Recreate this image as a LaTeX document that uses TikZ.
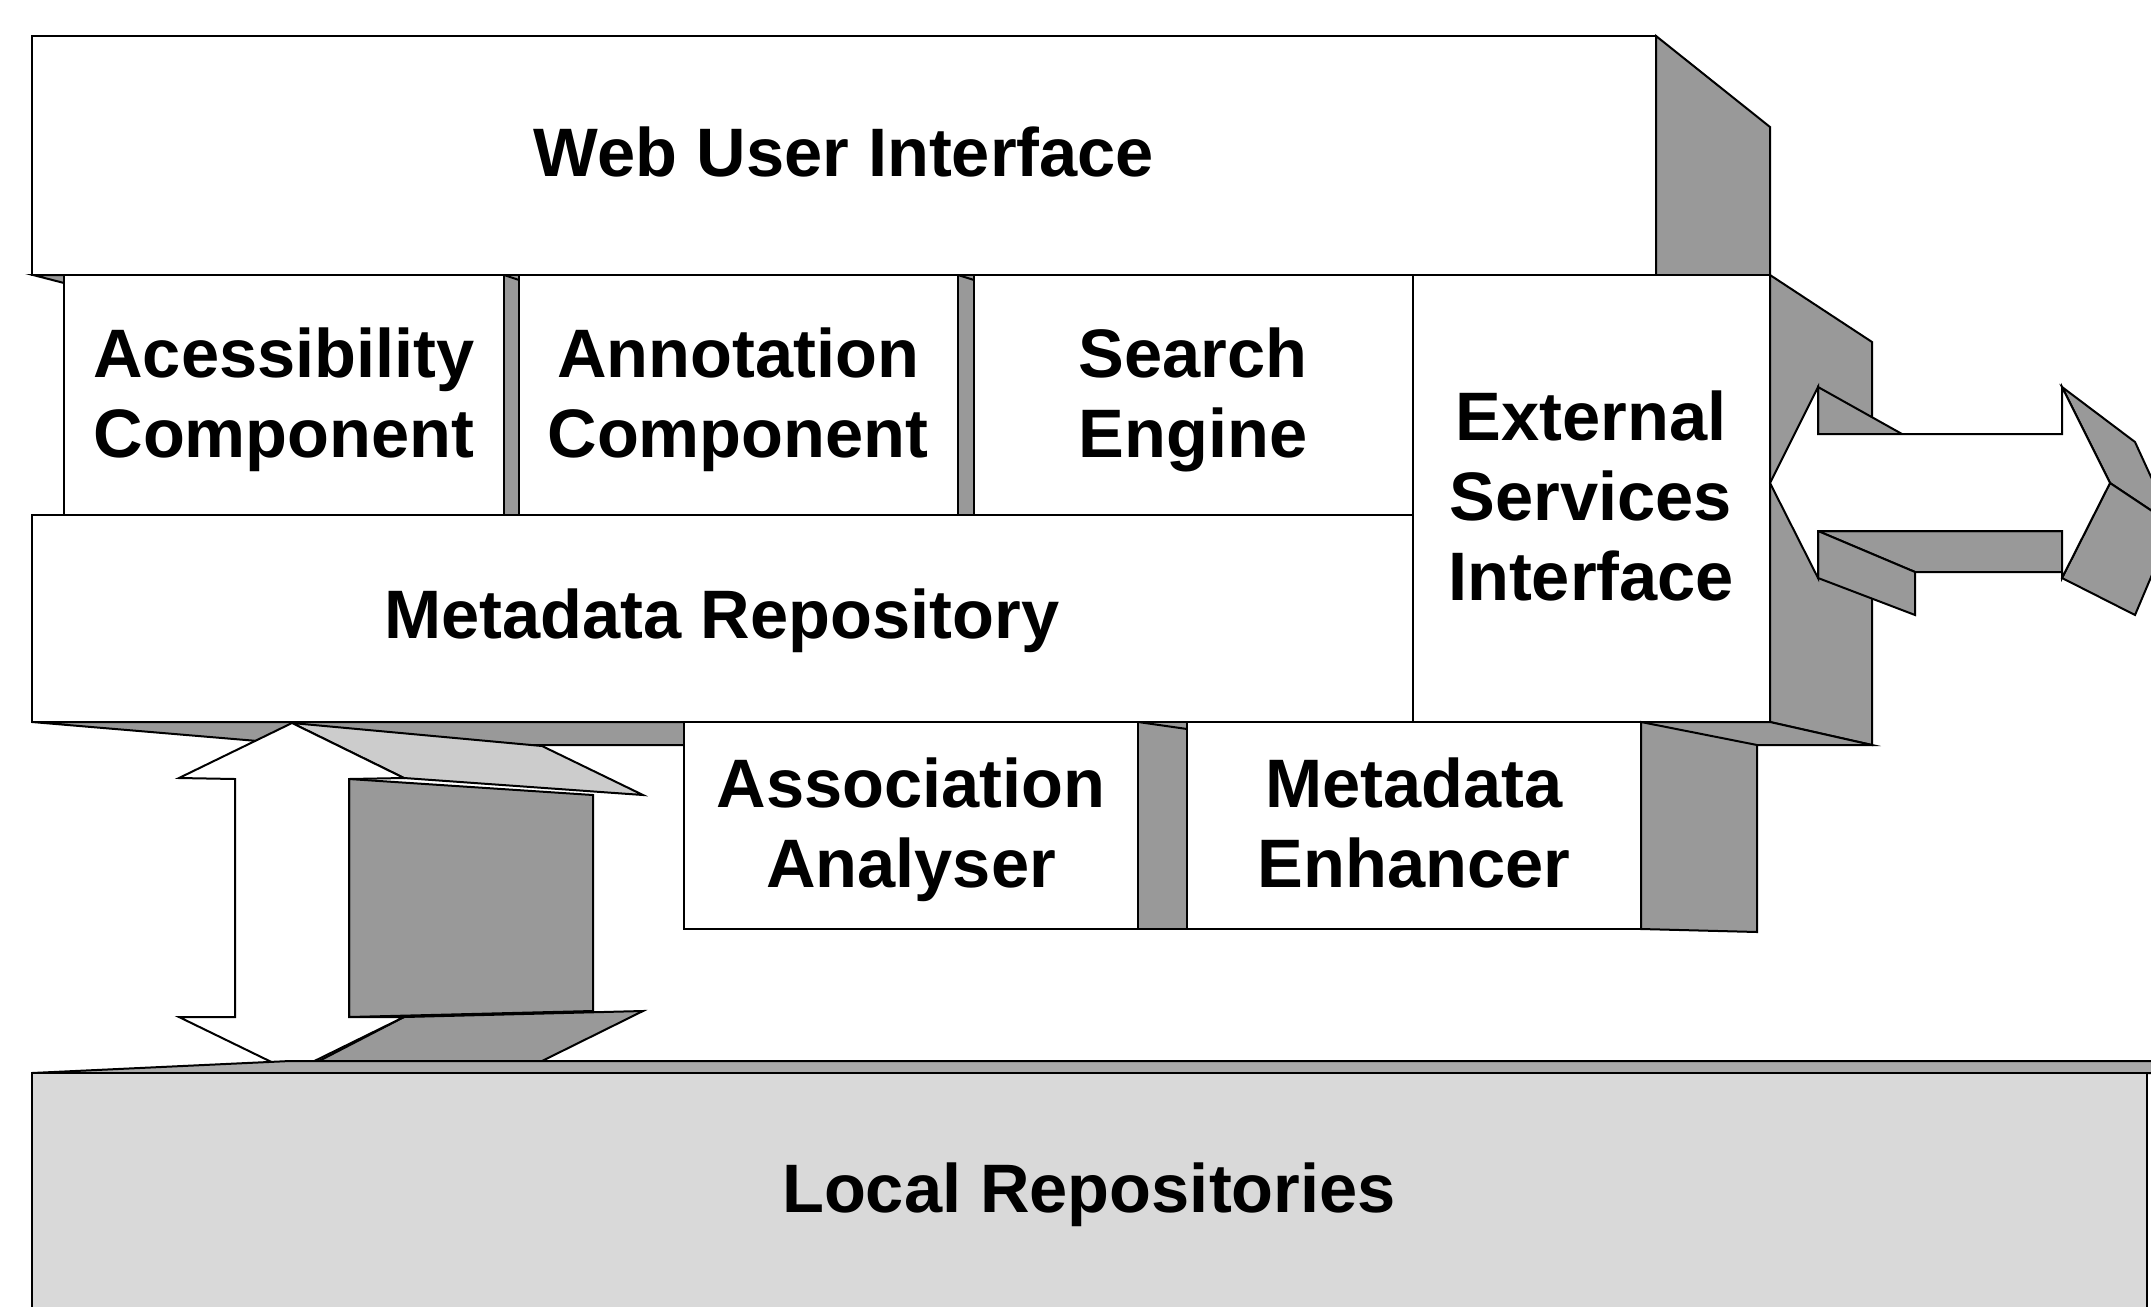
\documentclass[tikz,border=0pt]{standalone}
\usepackage{fontspec}
\setmainfont{Liberation Sans}
\definecolor{shade}{RGB}{153,153,153}
\definecolor{lightshade}{RGB}{204,204,204}
\definecolor{slabtop}{RGB}{170,170,170}
\definecolor{slab}{RGB}{217,217,217}

\begin{document}
\begin{tikzpicture}[x=0.25pt,y=-0.25pt,line width=0.5pt,
    face/.style={draw=black,fill=white},
    side/.style={draw=black,fill=shade},
    txt/.style={font=\bfseries\fontsize{17.15pt}{19.9pt}\selectfont,align=center}]
    \useasboundingbox (0,0) rectangle (2151,1306);
    \clip (0,0) rectangle (2151,1306);

    % Web user interface
    \draw[side] (1656,36) -- (1770,127) -- (1770,275) -- (1656,275) -- cycle;
    \draw[face] (32,36) rectangle (1656,275);

    % Shadows of the middle block
    \draw[side] (1770,275) -- (1872,342) -- (1872,745) -- (1770,722) -- cycle;
    \draw[side] (32,722) -- (305,745) -- (1872,745) -- (1770,722) -- cycle;

    % Components
    \draw[side] (33,275) -- (64,275) -- (64,283) -- cycle;
    \draw[side] (504,275) rectangle (519,515);
    \draw (504,275) -- (519,280);
    \draw[side] (958,275) rectangle (974,515);
    \draw (958,275) -- (974,280);
    \draw[face] (64,275) rectangle (504,515);
    \draw[face] (519,275) rectangle (958,515);
    \draw[face] (974,275) rectangle (1413,515);
    \draw[face] (1413,275) rectangle (1770,722);
    \draw[face] (32,515) rectangle (1413,722);

    % Analyser and enhancer
    \draw[side] (1138,722) rectangle (1187,929);
    \draw (1138,722) -- (1187,729);
    \draw[side] (1641,722) -- (1757,745) -- (1757,932) -- (1641,929) -- cycle;
    \draw[face] (684,722) rectangle (1138,929);
    \draw[face] (1187,722) rectangle (1641,929);

    % Vertical arrow
    \draw[side] (349,779) -- (593,795) -- (593,1011) -- (349,1017) -- cycle;
    \draw[fill=lightshade] (292,723) -- (542,746) -- (643,795) -- (404,778) -- cycle;
    \draw[side] (404,1017) -- (643,1011) -- (542,1061) -- (319,1061) -- cycle;
    \draw[face] (292,723) -- (179,778) -- (235,779) -- (235,1017) -- (179,1017)
        -- (292,1072) -- (404,1017) -- (349,1017) -- (349,779) -- (404,778) -- cycle;

    % Local repositories
    \draw[fill=slabtop] (32,1073) -- (290,1061) -- (2160,1061) -- (2160,1073) -- cycle;
    \draw[fill=slab] (32,1073) rectangle (2147,1320);

    % Horizontal arrow
    \draw[side] (1818,531) -- (2062,531) -- (2062,572) -- (1915,572) -- cycle;
    \draw[side] (1818,531) -- (1915,572) -- (1915,615) -- (1818,578) -- cycle;
    \draw[side] (1818,387) -- (1902,434) -- (1818,434) -- cycle;
    \draw[side] (2062,387) -- (2135,442) -- (2173,525) -- (2110,483) -- cycle;
    \draw[side] (2110,483) -- (2173,525) -- (2135,615) -- (2062,578) -- cycle;
    \draw[face] (1770,483) -- (1818,387) -- (1818,434) -- (2062,434) -- (2062,387)
        -- (2110,483) -- (2062,578) -- (2062,531) -- (1818,531) -- (1818,578) -- cycle;

    % Labels
    \node[txt] (wui) at (844,152) {Web User Interface};
    \node[txt] (access) at (284,400) {Acessibility\\Component};
    \node[txt] (annot) at (738,400) {Annotation\\Component};
    \node[txt] (search) at (1193,400) {Search\\Engine};
    \node[txt] (extern) at (1591,496) {External\\Services\\Interface};
    \node[txt] (metarepo) at (722,621) {Metadata Repository};
    \node[txt] (assoc) at (911,830) {Association\\Analyser};
    \node[txt] (enhance) at (1414,823) {Metadata\\Enhancer};
    \node[txt] (local) at (1089,1195) {Local Repositories};
\end{tikzpicture}
\end{document}
